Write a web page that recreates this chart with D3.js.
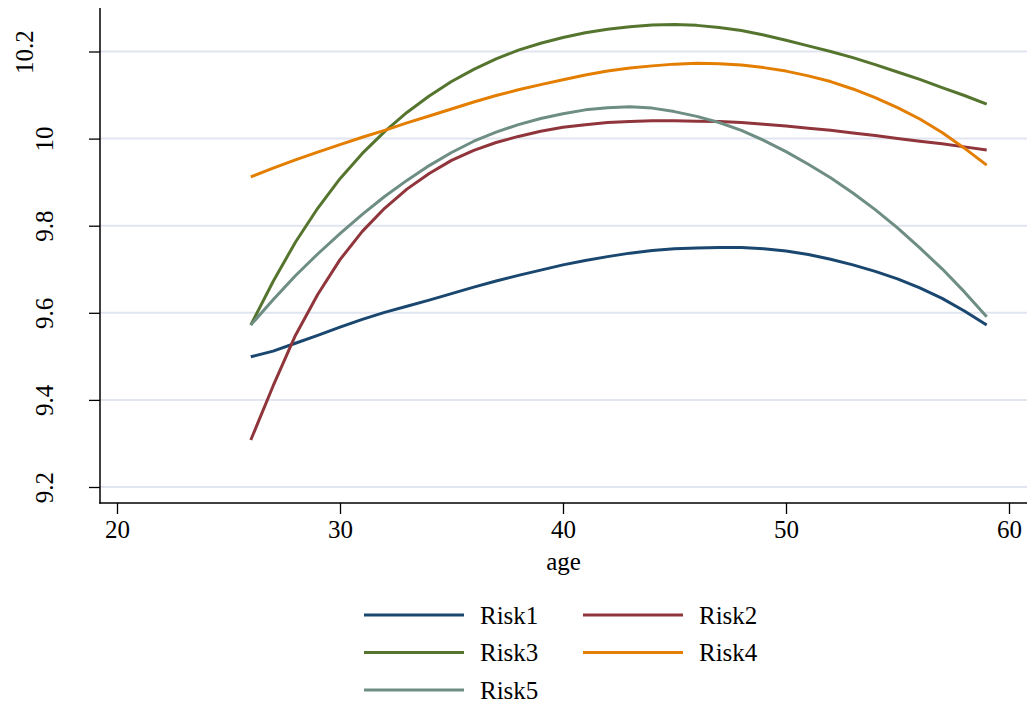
<!DOCTYPE html>
<html>
<head>
<meta charset="utf-8">
<script src="https://cdn.jsdelivr.net/npm/d3@7"></script>
<style>
  body { margin: 0; background: #fff; }
  svg text { font-family: "Liberation Serif", "Times New Roman", serif !important; fill: #000; }
</style>
</head>
<body>
<div id="chart"></div>
<script>
// ---- data ----
const ages = d3.range(26, 60);
const risk1 = [9.499, 9.512, 9.530, 9.548, 9.567, 9.585, 9.601, 9.615, 9.629, 9.644, 9.659, 9.673,
  9.686, 9.698, 9.710, 9.720, 9.729, 9.737, 9.743, 9.747, 9.749, 9.750, 9.750, 9.747, 9.742,
  9.734, 9.723, 9.710, 9.695, 9.678, 9.657, 9.633, 9.604, 9.572];
const risk2 = [9.308, 9.432, 9.548, 9.642, 9.722, 9.787, 9.840, 9.884, 9.920, 9.950, 9.973, 9.991,
  10.005, 10.017, 10.026, 10.032, 10.037, 10.039, 10.041, 10.041, 10.040, 10.039, 10.037, 10.033,
  10.029, 10.024, 10.019, 10.013, 10.007, 10.000, 9.994, 9.988, 9.981, 9.974];
const risk3 = [9.572, 9.672, 9.762, 9.840, 9.908, 9.966, 10.016, 10.060, 10.098, 10.131, 10.159, 10.183,
  10.203, 10.219, 10.232, 10.243, 10.251, 10.257, 10.261, 10.262, 10.260, 10.255, 10.248, 10.238,
  10.226, 10.213, 10.200, 10.186, 10.170, 10.153, 10.136, 10.117, 10.099, 10.079];
const risk4 = [9.912, 9.932, 9.951, 9.969, 9.986, 10.003, 10.019, 10.036, 10.052, 10.068, 10.084, 10.099,
  10.112, 10.124, 10.135, 10.146, 10.155, 10.162, 10.167, 10.171, 10.173, 10.172, 10.169, 10.163,
  10.155, 10.144, 10.131, 10.114, 10.094, 10.071, 10.045, 10.014, 9.978, 9.939];
const risk5 = [9.572, 9.630, 9.685, 9.735, 9.782, 9.826, 9.867, 9.904, 9.938, 9.968, 9.994, 10.015,
  10.032, 10.046, 10.057, 10.066, 10.071, 10.073, 10.070, 10.062, 10.051, 10.037, 10.019, 9.996,
  9.970, 9.941, 9.910, 9.875, 9.837, 9.795, 9.749, 9.701, 9.648, 9.591];

const seriesNames = ['Risk1', 'Risk2', 'Risk3', 'Risk4', 'Risk5'];
const seriesValues = [risk1, risk2, risk3, risk4, risk5];
const xTicks = [20, 30, 40, 50, 60];
const yTicks = [9.2, 9.4, 9.6, 9.8, 10, 10.2];

// Stata s2color-ish palette
const colors = ['#1a476f', '#90353b', '#55752f', '#e37e00', '#6e8e84'];

const W = 1032, H = 709;
const frame = { left: 100, right: 1027, top: 8, bottom: 503 };
const FONT = '"Liberation Serif", "Times New Roman", serif';

const svg = d3.select('#chart').append('svg')
  .attr('width', W).attr('height', H)
  .style('font-family', FONT);

const x = d3.scaleLinear().domain([20, 60]).range([117, 1009]);
const y = d3.scaleLinear().domain([9.2, 10.2]).range([487, 51.5]);

// gridlines
svg.append('g')
  .selectAll('line').data(yTicks).join('line')
  .attr('x1', frame.left).attr('x2', frame.right)
  .attr('y1', d => y(d)).attr('y2', d => y(d))
  .attr('stroke', '#e1e5ef').attr('stroke-width', 2);

// lines
const line = d3.line()
  .x((d, i) => x(ages[i]))
  .y(d => y(d));

seriesValues.forEach((vals, i) => {
  svg.append('path')
    .datum(vals)
    .attr('fill', 'none')
    .attr('stroke', colors[i])
    .attr('stroke-width', 3)
    .attr('stroke-linejoin', 'round')
    .attr('d', line);
});

// x axis
const xAxis = svg.append('g')
  .attr('transform', `translate(0,${frame.bottom})`)
  .call(d3.axisBottom(x).tickValues(xTicks).tickSize(11).tickPadding(6));
xAxis.attr('font-family', null).style('font-family', FONT);
xAxis.select('.domain').remove();
xAxis.selectAll('.tick line').attr('stroke', '#000').attr('stroke-width', 1.3);
xAxis.selectAll('.tick text')
  .style('font-family', FONT)
  .style('font-size', '25px');
svg.append('line')
  .attr('x1', frame.left - 0.7).attr('x2', frame.right)
  .attr('y1', frame.bottom).attr('y2', frame.bottom)
  .attr('stroke', '#000').attr('stroke-width', 1.5);

// y axis
const yAxis = svg.append('g')
  .attr('transform', `translate(${frame.left},0)`)
  .call(d3.axisLeft(y).tickValues(yTicks).tickSize(11).tickFormat(d3.format('')));
yAxis.attr('font-family', null).style('font-family', FONT);
yAxis.select('.domain').remove();
yAxis.selectAll('.tick line').attr('stroke', '#000').attr('stroke-width', 1.3);
yAxis.selectAll('.tick text')
  .style('font-family', FONT)
  .style('font-size', '25px')
  .attr('text-anchor', 'middle')
  .attr('dy', 0)
  .attr('x', 0).attr('y', 0)
  .attr('transform', d => `translate(${d === 10.2 ? -67 : -47},0) rotate(-90)`);
svg.append('line')
  .attr('x1', frame.left).attr('x2', frame.left)
  .attr('y1', frame.top).attr('y2', frame.bottom + 0.7)
  .attr('stroke', '#000').attr('stroke-width', 1.5);

// axis title
svg.append('text')
  .attr('x', (frame.left + frame.right) / 2)
  .attr('y', 570)
  .attr('text-anchor', 'middle')
  .style('font-size', '25px')
  .text('age');

// legend
const legend = svg.append('g');
seriesNames.forEach((name, i) => {
  const col = i % 2, row = Math.floor(i / 2);
  const lx = 364 + col * 219, ly = 615 + row * 37.5;
  legend.append('line')
    .attr('x1', lx).attr('x2', lx + 100)
    .attr('y1', ly).attr('y2', ly)
    .attr('stroke', colors[i]).attr('stroke-width', 3);
  legend.append('text')
    .attr('x', lx + 116).attr('y', ly)
    .attr('dy', '0.35em')
    .style('font-size', '25px')
    .text(name);
});
</script>
</body>
</html>
